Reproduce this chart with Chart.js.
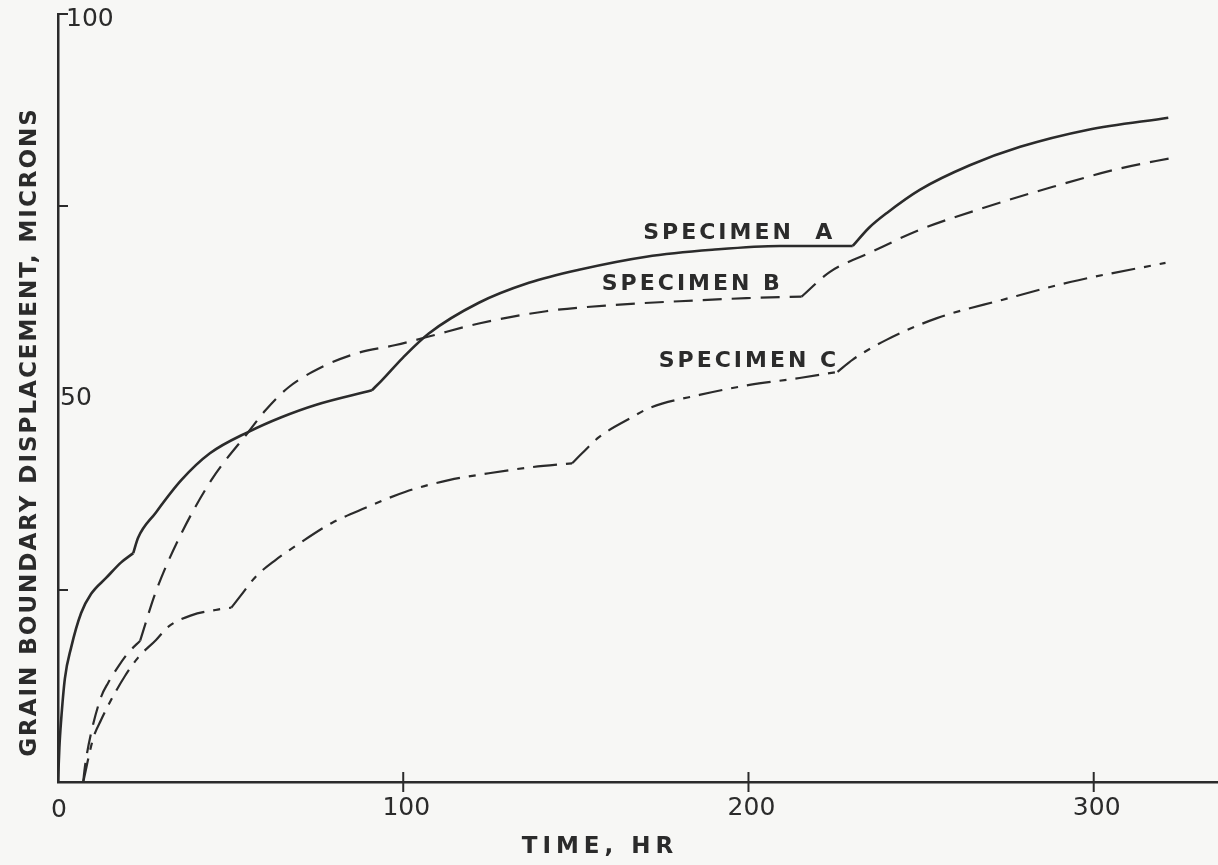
<!DOCTYPE html>
<html>
<head>
<meta charset="utf-8">
<script src="https://cdn.jsdelivr.net/npm/chart.js@4.4.1/dist/chart.umd.min.js"></script>
<style>
  html, body { margin: 0; padding: 0; background: #f7f7f5; }
  #wrap { width: 1218px; height: 865px; position: relative; }
</style>
</head>
<body>
<div id="wrap"><canvas id="chart"></canvas></div>
<script>
// valores (tempo em horas, deslocamento em microns)
const timeA = [0, 0.4, 0.9, 2.0, 3.8, 6.7, 9.6, 14, 18.3, 21.8, 23.2, 28.2, 35.7, 44, 55.2, 64.7, 74.6, 90.9, 93.8, 100, 107.4, 121.9, 136.4, 150.9, 170.4, 189.5, 209.0, 230.2, 235, 240.1, 249.6, 264.1, 278.7, 298.1, 321.6];
const dispA = [0, 4.5, 8, 13.5, 17.5, 22, 24.5, 26.6, 28.6, 29.8, 31.8, 35.0, 39.3, 42.8, 45.6, 47.5, 49.1, 51.0, 52.3, 55.3, 58.4, 62.4, 65.0, 66.7, 68.4, 69.3, 69.8, 69.8, 72.2, 74.1, 77.1, 80.3, 82.7, 84.9, 86.5];
const kinksA = [21.8, 90.9, 230.2];

const timeB = [7.3, 7.8, 9.6, 12.5, 14.5, 17.4, 20.3, 23.8, 28.2, 34.8, 44.4, 55.2, 60.1, 66.8, 76.3, 87.1, 97.8, 107.4, 121.9, 141.4, 160.5, 180.0, 199.4, 215.4, 223.5, 235.1, 249.6, 269.1, 288.2, 307.7, 323.1];
const dispB = [0, 2.0, 6.4, 11.1, 12.9, 15.0, 16.8, 18.4, 24.6, 31.5, 39.3, 45.6, 48.4, 51.4, 54.0, 55.9, 56.9, 58.0, 59.7, 61.3, 62.1, 62.6, 63.0, 63.2, 66.4, 68.9, 71.9, 74.9, 77.5, 79.9, 81.3];
const kinksB = [23.8, 215.4];

const timeC = [7.3, 10.2, 12.5, 15.4, 19.4, 23.2, 28.4, 31.9, 38.6, 45.6, 50.2, 52.8, 57.2, 63.0, 69.7, 79.2, 89.1, 100.7, 113.2, 124.8, 137.3, 148.9, 151.8, 156.7, 166.3, 171.3, 185.8, 200.3, 214.8, 225.8, 230.2, 240.1, 254.6, 273.7, 293.2, 320.8];
const dispC = [0, 5.7, 8.1, 10.7, 13.8, 16.2, 18.5, 20.2, 21.7, 22.4, 22.7, 24.2, 26.7, 28.9, 31.0, 33.7, 35.7, 37.8, 39.3, 40.2, 41.0, 41.5, 42.8, 44.9, 47.5, 48.7, 50.4, 51.7, 52.6, 53.4, 55.0, 57.6, 60.4, 62.8, 65.1, 67.6];
const kinksC = [50.2, 148.9, 225.8];

const xTicks = [100, 200, 300];
const xTickLabels = ["100", "200", "300"];
const yTicks = [25, 50, 75, 100];
const yTickLabels = ["", "50", "", "100"];

const seriesNames = ["SPECIMEN  A", "SPECIMEN B", "SPECIMEN C"];
const xTitle = "TIME, HR";
const yTitle = "GRAIN BOUNDARY DISPLACEMENT, MICRONS";

const INK = "#2b2b2b";
const el = (id) => document.getElementById(id);

// corta a curva nos "joelhos" pra manter a quina viva
function pieces(xs, ys, kinks) {
  const out = [];
  let cur = [];
  xs.forEach((x, i) => {
    cur.push({ x, y: ys[i] });
    if (kinks.includes(x)) {
      out.push(cur);
      cur = [{ x, y: ys[i] }];
    }
  });
  if (cur.length > 1) out.push(cur);
  return out;
}

// onde vai cada rótulo (em coordenadas dos dados)
const nameSpots = [
  { t: 169.5, v: 71.4 },
  { t: 157.5, v: 64.8 },
  { t: 174.0, v: 54.8 }
];

const paperPlugin = {
  id: "paper",
  beforeDraw(chart) {
    const { ctx, width, height } = chart;
    ctx.save();
    ctx.fillStyle = "#f7f7f5";
    ctx.fillRect(0, 0, width, height);
    ctx.restore();
  },
  afterDraw(chart) {
    const { ctx } = chart;
    const x = chart.scales.x, y = chart.scales.y;
    const bottom = y.getPixelForValue(0);
    const left = x.left;
    ctx.save();
    ctx.strokeStyle = INK;
    ctx.fillStyle = INK;
    ctx.lineWidth = 2;

    // marcas do eixo x (cruzam a linha)
    xTicks.forEach(v => {
      const px = x.getPixelForValue(v);
      ctx.beginPath();
      ctx.moveTo(px, bottom - 10);
      ctx.lineTo(px, bottom + 10);
      ctx.stroke();
    });
    // marcas do eixo y (para dentro), sem marca onde tem o "50"
    yTicks.forEach(v => {
      if (v === 50) return;
      const py = y.getPixelForValue(v);
      ctx.beginPath();
      ctx.moveTo(left, py);
      ctx.lineTo(left + 10, py);
      ctx.stroke();
    });

    // números
    ctx.font = "25px 'DejaVu Sans'";
    ctx.textAlign = "center";
    ctx.textBaseline = "middle";
    ctx.fillText("0", x.getPixelForValue(0) + 1, bottom + 28);
    xTicks.forEach((v, i) => ctx.fillText(xTickLabels[i], x.getPixelForValue(v) + 3, bottom + 26));
    ctx.textAlign = "left";
    yTicks.forEach((v, i) => {
      const lab = yTickLabels[i];
      if (!lab) return;
      const py = y.getPixelForValue(v);
      if (v === 100) ctx.fillText(lab, left + 8, py + 5);
      else ctx.fillText(lab, left + 2, py);
    });

    // títulos dos eixos
    ctx.textAlign = "center";
    ctx.font = "bold 23px 'DejaVu Sans'";
    ctx.letterSpacing = "5px";
    ctx.fillText(xTitle, 600, 847);
    ctx.letterSpacing = "2px";
    ctx.translate(30, 432);
    ctx.rotate(-Math.PI / 2);
    ctx.fillText(yTitle, 0, 0);
    ctx.setTransform(1, 0, 0, 1, 0, 0);

    // nomes das curvas
    ctx.font = "bold 22px 'DejaVu Sans'";
    ctx.letterSpacing = "3px";
    ctx.textAlign = "left";
    nameSpots.forEach((s, i) => {
      ctx.fillText(seriesNames[i], x.getPixelForValue(s.t), y.getPixelForValue(s.v));
    });
    ctx.restore();
  }
};

const lineSet = (data, dash, width) => ({
  data,
  showLine: true,
  borderColor: INK,
  borderWidth: width,
  borderDash: dash,
  borderCapStyle: "butt",
  borderJoinStyle: "round",
  pointRadius: 0,
  fill: false,
  cubicInterpolationMode: "monotone"
});

const datasets = [
  ...pieces(timeA, dispA, kinksA).map(p => lineSet(p, [], 2.6)),
  ...pieces(timeB, dispB, kinksB).map(p => lineSet(p, [19, 10], 2.2)),
  ...pieces(timeC, dispC, kinksC).map(p => lineSet(p, [24, 9, 7, 9], 2.2))
];

new Chart(el("chart"), {
  type: "scatter",
  data: { datasets },
  options: {
    responsive: true,
    maintainAspectRatio: false,
    animation: false,
    layout: { padding: { left: 58, top: 14, right: 0, bottom: 83 } },
    plugins: { legend: { display: false }, tooltip: { enabled: false } },
    scales: {
      x: {
        type: "linear",
        min: 0,
        max: 336,
        ticks: { display: false },
        grid: { display: false, drawTicks: false },
        border: { display: true, color: INK, width: 2.5 },
        afterFit: s => { s.height = 0; }
      },
      y: {
        type: "linear",
        min: 0,
        max: 100,
        ticks: { display: false },
        grid: { display: false, drawTicks: false },
        border: { display: true, color: INK, width: 2.5 },
        afterFit: s => { s.width = 0; }
      }
    }
  },
  plugins: [paperPlugin]
});
</script>
</body>
</html>
